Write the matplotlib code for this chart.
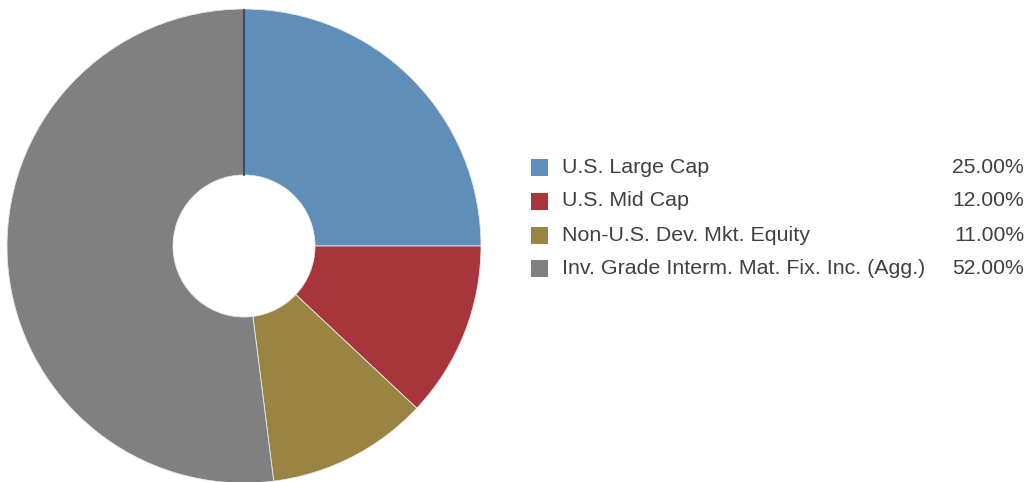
import matplotlib.pyplot as plt
from matplotlib.patches import Rectangle

plt.rcParams['font.family'] = ['Liberation Sans', 'DejaVu Sans']

# data
labels = ['U.S. Large Cap', 'U.S. Mid Cap', 'Non-U.S. Dev. Mkt. Equity',
          'Inv. Grade Interm. Mat. Fix. Inc. (Agg.)']
values = [25.0, 12.0, 11.0, 52.0]
colors = ['#5f8fb8', '#a8353b', '#9a8441', '#808080']

W, H = 1026, 482
fig = plt.figure(figsize=(W / 100, H / 100), dpi=100)

# pie axes: center (244, 246) px, outer radius 237 px
cx, cy, r = 244, 246, 237
ax = fig.add_axes([(cx - r) / W, (H - cy - r) / H, 2 * r / W, 2 * r / H])
hole = 71 / r
ax.pie(values, colors=colors, startangle=90, counterclock=False, radius=1,
       wedgeprops=dict(width=1 - hole, edgecolor='#e8e8e8', linewidth=0.6))
ax.plot([0, 0], [hole, 1], color='#1d3557', lw=1.2)
ax.set_xlim(-1, 1)
ax.set_ylim(-1, 1)
ax.set_aspect('equal')
ax.axis('off')

# legend
row_y = [167.5, 201, 235, 268.5]
for lab, val, col, y in zip(labels, values, colors, row_y):
    fig.add_artist(Rectangle((531 / W, (H - y - 8.5) / H), 17 / W, 17 / H,
                             transform=fig.transFigure, color=col, lw=0))
    fig.text(562 / W, (H - y) / H, lab, fontsize=15.4, color='#404040',
             va='center', ha='left')
    fig.text(1024 / W, (H - y) / H, '%.2f%%' % val, fontsize=15.2, color='#404040',
             va='center', ha='right')

fig.savefig('out.png', dpi=100)
